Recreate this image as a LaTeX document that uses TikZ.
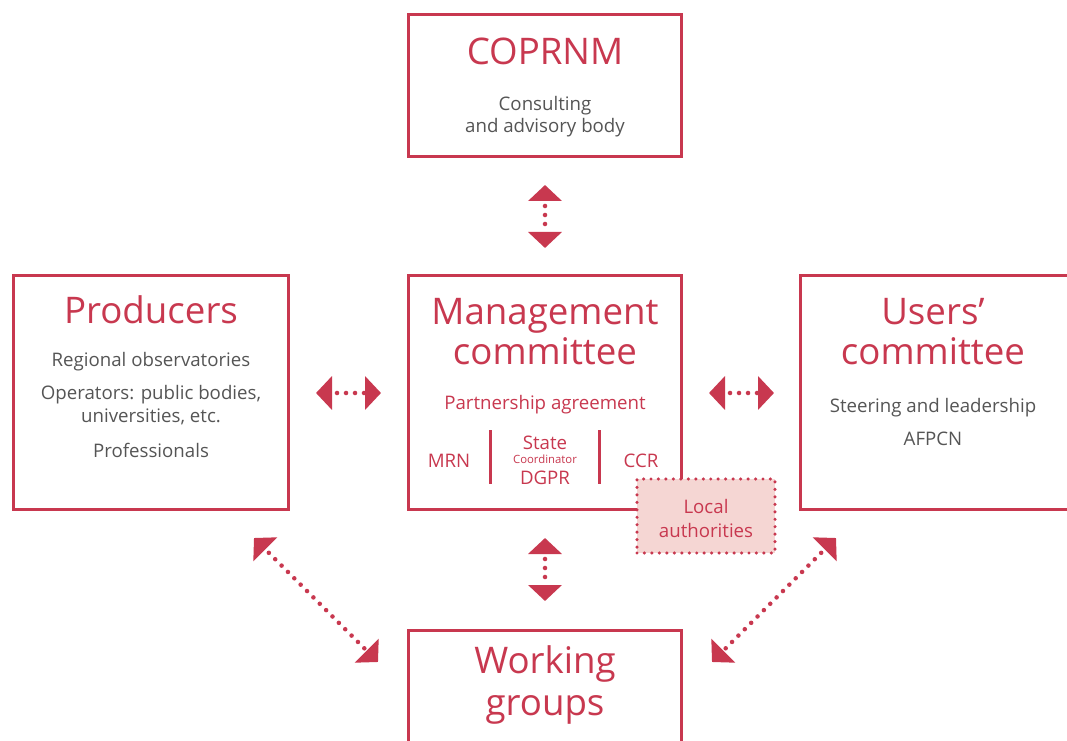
\documentclass[tikz,border=0pt]{standalone}
\usepackage{fontspec}
\setmainfont{Open Sans}
\usetikzlibrary{arrows.meta}
\definecolor{crim}{HTML}{C8384F}
\definecolor{txtgray}{HTML}{555555}
\definecolor{pinkfill}{HTML}{F5D6D3}
\def\px{0.75pt}
\begin{document}
\begin{tikzpicture}[x=0.75pt,y=-0.75pt,
  box/.style={draw=crim, line width=2.25pt, fill=white, rectangle, inner sep=0pt, outer sep=0pt},
  ttl/.style={text=crim, inner sep=0pt, anchor=base, font=\fontsize{27.5}{27.5}\selectfont},
  body/.style={text=txtgray, inner sep=0pt, anchor=base, font=\fontsize{14}{14}\selectfont},
  rbody/.style={text=crim, inner sep=0pt, anchor=base, font=\fontsize{14}{14}\selectfont},
  tiny/.style={text=crim, inner sep=0pt, anchor=base, font=\fontsize{8.5}{8.5}\selectfont},
  biarrow/.style={draw=crim, line width=3.4pt, line cap=round, dash pattern=on 0pt off 6.75pt, dash phase=2.25pt,
    {Triangle[length=12pt,width=24.75pt]}-{Triangle[length=12pt,width=24.75pt]}},
  sep/.style={draw=crim, line width=2.25pt},
  localbox/.style={draw=crim, fill=pinkfill, line width=2.6pt, line cap=round, dash pattern=on 0pt off 5.6pt, inner sep=0pt, outer sep=0pt}
]
\useasboundingbox (0,0) rectangle (1067,741);
\fill[white] (0,0) rectangle (1067,741);

% boxes
\node[box, minimum width=273*\px, minimum height=142*\px] (cop) at (545,85.5) {};
\node[box, minimum width=275*\px, minimum height=234*\px] (prod) at (151,392.5) {};
\node[box, minimum width=273*\px, minimum height=234*\px] (mgmt) at (545,392.5) {};
\node[box, minimum width=300*\px, minimum height=234*\px, anchor=west] (users) at (800.5,392.5) {};
\node[box, minimum width=273*\px, minimum height=200*\px, anchor=north] (work) at (545,630.5) {};

% COPRNM
\node[ttl] (t1) at (545,65) {COPRNM};
\node[body] (c1) at (545,111) {Consulting};
\node[body] (c2) at (545,133) {and advisory body};

% Producers
\node[ttl] (t2) at (151,324) {Producers};
\node[body] (p1) at (151,367) {Regional observatories};
\node[body] (p2) at (151,400) {Operators: public bodies,};
\node[body] (p3) at (151,422) {universities, etc.};
\node[body] (p4) at (151,457) {Professionals};

% Management
\node[ttl] (t3a) at (545,325) {Management};
\node[ttl] (t3b) at (545,365) {committee};
\node[rbody] (m1) at (545,409) {Partnership agreement};
\node[rbody] (m2) at (449,467) {MRN};
\node[rbody] (m3) at (545,449) {State};
\node[tiny] (m4) at (545,463) {Coordinator};
\node[rbody] (m5) at (545,484) {DGPR};
\node[rbody] (m6) at (641,467) {CCR};
\draw[sep] (490,430) -- (490,484);
\draw[sep] (599,430) -- (599,484);

% Users
\node[ttl] (t4a) at (933,325) {Users’};
\node[ttl] (t4b) at (933,365) {committee};
\node[body] (u1) at (933,412) {Steering and leadership};
\node[body] (u2) at (933,445) {AFPCN};

% Local authorities
\node[localbox, minimum width=138*\px, minimum height=74*\px] (loc) at (706,516) {};
\node[rbody] (la1) at (706,513) {Local};
\node[rbody] (la2) at (706,537) {authorities};

% Working groups
\node[ttl] (t5a) at (545,673) {Working};
\node[ttl] (t5b) at (545,715) {groups};

% connectors
\draw[biarrow, shorten <=28.5*\px, shorten >=27.5*\px] (cop.south) -- (mgmt.north);
\draw[biarrow, shorten <=27.5*\px, shorten >=27.5*\px] (prod.east |- 0,393) -- (mgmt.west |- 0,393);
\draw[biarrow, shorten <=27.5*\px, shorten >=26.5*\px] (mgmt.east |- 0,393) -- (users.west |- 0,393);
\draw[biarrow, shorten <=28.5*\px, shorten >=29.5*\px] (mgmt.south) -- (work.north);
\coordinate (dl1) at (254,538);
\coordinate (dl2) at (378,662);
\coordinate (dr1) at (836,538);
\coordinate (dr2) at (712,662);
\draw[biarrow] (dl1) -- (dl2);
\draw[biarrow] (dr1) -- (dr2);
\end{tikzpicture}
\end{document}
